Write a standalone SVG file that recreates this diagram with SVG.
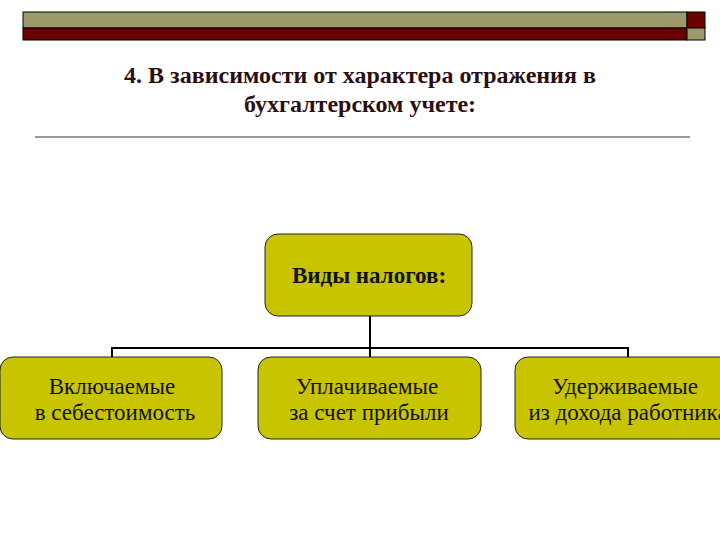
<svg xmlns="http://www.w3.org/2000/svg" width="720" height="540" viewBox="0 0 720 540">
<style>
.box{fill:#c9c400;stroke:#222;stroke-width:1}
.t{font-family:"Liberation Serif","Times New Roman",serif;font-size:23px;fill:#111;text-anchor:middle}
.title{font-family:"Liberation Serif","Times New Roman",serif;font-size:24px;font-weight:bold;fill:#2b0f0f;text-anchor:middle}
.con{stroke:#000;stroke-width:2;fill:none}
</style>
<rect width="720" height="540" fill="#fff"/>
<g id="header">
<rect x="23" y="12" width="664" height="16" fill="#9c9a6a" stroke="#000" stroke-width="1"/>
<rect x="23" y="28" width="664" height="12" fill="#6b0000" stroke="#000" stroke-width="1"/>
<rect x="687" y="12" width="18" height="16" fill="#6b0000" stroke="#000" stroke-width="1"/>
<rect x="687" y="28" width="18" height="12" fill="#9c9a6a" stroke="#000" stroke-width="1"/>
</g>
<g id="title">
<text class="title" x="360" y="83">4. В зависимости от характера отражения в</text>
<text class="title" x="360" y="112">бухгалтерском учете:</text>
<line x1="35" y1="137" x2="690" y2="137" stroke="#333" stroke-width="1"/>
</g>
<g id="connectors">
<path class="con" d="M370 316 V348 M112 357 V348 H628 V357 M370 348 V357"/>
</g>
<g id="root">
<rect class="box" x="265" y="234" width="207" height="82" rx="13"/>
<text class="t" x="369" y="283" font-weight="bold" font-size="22">Виды налогов:</text>
</g>
<g id="child1">
<rect class="box" x="0" y="357" width="222" height="82" rx="13"/>
<text class="t" x="112" y="394">Включаемые</text>
<text class="t" x="115" y="420">в себестоимость</text>
</g>
<g id="child2">
<rect class="box" x="258" y="357" width="223" height="82" rx="13"/>
<text class="t" x="367" y="394">Уплачиваемые</text>
<text class="t" x="369" y="420">за счет прибыли</text>
</g>
<g id="child3">
<rect class="box" x="515" y="357" width="226" height="82" rx="13"/>
<text class="t" x="625" y="394">Удерживаемые</text>
<text class="t" x="628" y="420">из дохода работника</text>
</g>
</svg>
